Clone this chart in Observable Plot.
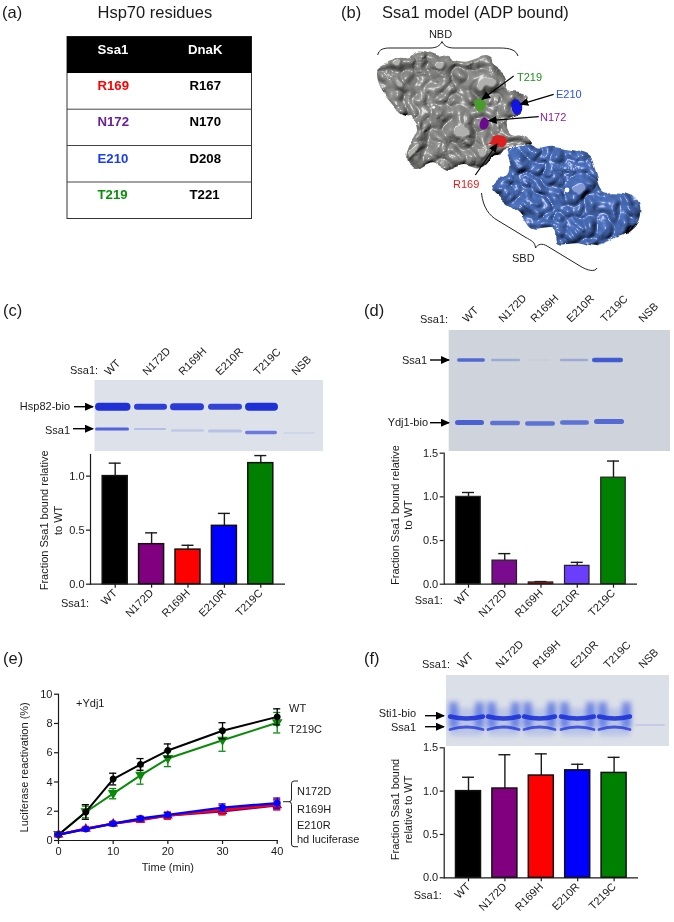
<!DOCTYPE html>
<html><head><meta charset="utf-8">
<script src="https://cdn.jsdelivr.net/npm/d3@7"></script>
<script src="https://cdn.jsdelivr.net/npm/@observablehq/plot@0.6"></script>
<style>
html,body{margin:0;padding:0;background:#fff;}
#fig{position:relative;width:674px;height:922px;overflow:hidden;font-family:"Liberation Sans",Arial,sans-serif;filter:blur(0.3px);}
#fig>svg{position:absolute;overflow:visible;background:transparent;}
</style></head><body><div id="fig"></div>
<script>
// ---------- data ----------
const mutants = ["WT","N172D","R169H","E210R","T219C"];
const barColors = ["#000000","#800080","#ff0000","#0000ff","#008000"];
const barColorsD = ["#000000","#7a0a8e","#ff0000","#6a3dff","#008000"];

const cValues = [1.0,0.37,0.32,0.54,1.12];
const cTops   = [1.12,0.475,0.36,0.655,1.19];
const dValues = [1.0,0.27,0.02,0.21,1.22];
const dTops   = [1.05,0.35,0.03,0.25,1.41];
const fValues = [1.0,1.03,1.18,1.24,1.21];
const fTops   = [1.16,1.42,1.43,1.31,1.39];

const times = [0,5,10,15,20,30,40];
const wtMean = [0.4,1.95,4.2,5.2,6.15,7.5,8.45];
const wtErr  = [0.05,0.5,0.4,0.4,0.45,0.55,0.55];
const tMean  = [0.4,1.95,3.2,4.45,5.6,6.85,8.05];
const tErr   = [0.05,0.4,0.35,0.6,0.55,0.75,0.7];
const nMean  = [0.4,0.8,1.15,1.4,1.7,2.0,2.4];
const nErr   = [0.05,0.1,0.1,0.15,0.2,0.25,0.3];
const rMean  = [0.4,0.8,1.15,1.45,1.7,2.1,2.45];
const rErr   = [0.05,0.1,0.1,0.2,0.25,0.3,0.35];
const eMean  = [0.4,0.78,1.15,1.5,1.75,2.25,2.55];
const eErr   = [0.05,0.08,0.1,0.15,0.15,0.25,0.35];

const tableSsa = ["R169","N172","E210","T219"];
const tableSsaColors = ["#ff0000","#6a1f9a","#1a3cf0","#0a8f0a"];
const tableDna = ["R167","N170","D208","T221"];

const font = '"Liberation Sans",Arial,sans-serif';
const fig = document.getElementById("fig");
const ink = "#1a1a1a";

// ---------- decoration layer: table, gels, surface model, labels ----------
const svg = d3.select(fig).append("svg").attr("width",674).attr("height",922).style("left",0).style("top",0).attr("font-family",font);
const defs = svg.append("defs");
defs.append("marker").attr("id","ah").attr("markerWidth",9).attr("markerHeight",8).attr("refX",8).attr("refY",4).attr("orient","auto").attr("markerUnits","userSpaceOnUse")
  .append("path").attr("d","M0,0L9,4L0,8Z").attr("fill","#000");
[["b06",0.7],["b1",1],["b2",2.6]].forEach(([id,s])=>{
  defs.append("filter").attr("id",id).attr("x","-200%").attr("y","-200%").attr("width","500%").attr("height","500%")
    .append("feGaussianBlur").attr("stdDeviation",s);
});
function surf(id,color,seed,freq){
  const f=defs.append("filter").attr("id",id).attr("x","-5%").attr("y","-5%").attr("width","110%").attr("height","110%");
  f.append("feTurbulence").attr("type","fractalNoise").attr("baseFrequency",0.05).attr("numOctaves",2).attr("seed",seed).attr("result","d");
  f.append("feDisplacementMap").attr("in","SourceAlpha").attr("in2","d").attr("scale",8).attr("xChannelSelector","R").attr("yChannelSelector","G").attr("result","shape");
  f.append("feTurbulence").attr("type","turbulence").attr("baseFrequency",freq).attr("numOctaves",2).attr("seed",seed+3).attr("result","n");
  f.append("feGaussianBlur").attr("in","n").attr("stdDeviation",1.1).attr("result","ns");
  f.append("feColorMatrix").attr("in","ns").attr("type","matrix").attr("values","0 0 0 0 0 0 0 0 0 0 0 0 0 0 0 1.6 0 0 0 0").attr("result","nn");
  f.append("feGaussianBlur").attr("in","shape").attr("stdDeviation",2.5).attr("result","a");
  f.append("feComposite").attr("in","nn").attr("in2","a").attr("operator","arithmetic").attr("k1",0).attr("k2",0.75).attr("k3",0.4).attr("k4",0).attr("result","h2");
  const l=f.append("feDiffuseLighting").attr("in","h2").attr("surfaceScale",11).attr("diffuseConstant",1.0).attr("lighting-color",color).attr("result","lit");
  l.append("feDistantLight").attr("azimuth",235).attr("elevation",66);
  const sp=f.append("feSpecularLighting").attr("in","h2").attr("surfaceScale",11).attr("specularConstant",0.5).attr("specularExponent",34).attr("lighting-color","#fff").attr("result","spec");
  sp.append("feDistantLight").attr("azimuth",235).attr("elevation",60);
  f.append("feComposite").attr("in","lit").attr("in2","spec").attr("operator","arithmetic").attr("k2",1).attr("k3",1).attr("result","all");
  f.append("feComposite").attr("in","all").attr("in2","shape").attr("operator","in");
}
surf("sg","#979795",4,0.042);
surf("sb","#4f76c4",9,0.046);

function label(t,x,y,o={}){
  const e=svg.append("text").attr("x",x).attr("y",y).attr("font-size",o.size||11).attr("fill",o.fill||ink).attr("text-anchor",o.anchor||"start").text(t);
  if(o.weight) e.attr("font-weight",o.weight);
  if(o.rot) e.attr("transform",`rotate(${o.rot} ${x} ${y})`);
  return e;
}
// panel letters and headings
[["(a)",2,18],["(b)",341,18],["(c)",3,316],["(d)",364,316],["(e)",3,664],["(f)",364,664]].forEach(([t,x,y])=>label(t,x,y,{size:16.5}));
label("Hsp70 residues",97.5,18,{size:16.5});
label("Ssa1 model (ADP bound)",382,18,{size:16.5});

// (a) table
svg.append("rect").attr("x",67).attr("y",36.5).attr("width",184.5).attr("height",182).attr("fill","#fff").attr("stroke","#333");
svg.append("rect").attr("x",67).attr("y",36.5).attr("width",184.5).attr("height",36.5).attr("fill","#000");
[109.2,145.5,182].forEach(y=>svg.append("line").attr("x1",67).attr("x2",251.5).attr("y1",y).attr("y2",y).attr("stroke","#444"));
label("Ssa1",97.5,53.5,{size:13.2,weight:"bold",fill:"#fff"});
label("DnaK",188,53.5,{size:13.2,weight:"bold",fill:"#fff"});
tableSsa.forEach((t,i)=>{
  const y=89.8+i*36.4;
  label(t,97.5,y,{size:13.2,weight:"bold",fill:tableSsaColors[i]});
  label(tableDna[i],189.5,y,{size:13.2,weight:"bold",fill:"#000"});
});

// (b) surface model
const Z=(p)=>p.map(([x,y])=>[337+x/3,y/3]);
const closed=d3.line().curve(d3.curveCatmullRomClosed.alpha(0.5));
const nbd=[[122,205],[140,190],[165,180],[190,170],[215,175],[240,155],[270,160],[300,170],[335,165],[350,178],[385,185],[420,175],[440,165],[460,175],[465,195],[500,225],[520,270],[550,275],[570,290],[555,310],[545,345],[510,365],[520,400],[560,405],[585,430],[560,440],[510,445],[495,460],[470,465],[430,505],[380,495],[330,510],[290,490],[240,510],[210,490],[215,440],[240,390],[230,360],[190,340],[175,320],[150,290],[125,250]];
const sbd=[[510,450],[540,440],[580,430],[600,445],[650,440],[700,450],[760,470],[775,510],[800,570],[860,580],[905,605],[905,660],[870,700],[820,720],[780,740],[720,730],[660,730],[650,690],[590,690],[550,640],[490,590],[465,560],[480,535],[510,530],[520,490]];
svg.append("path").attr("d",closed(Z(nbd))).attr("fill","#000").attr("filter","url(#sg)");
svg.append("path").attr("d",closed(Z(sbd))).attr("fill","#000").attr("filter","url(#sb)");
svg.append("circle").attr("cx",337+220/3).attr("cy",351/3).attr("r",2).attr("fill","#fff");
svg.append("circle").attr("cx",337+290/3).attr("cy",322/3).attr("r",1.4).attr("fill","#fff");
svg.append("circle").attr("cx",337+690/3).attr("cy",570/3).attr("r",2.4).attr("fill","#fff");
[[[[412,303],[432,295],[447,310],[440,330],[425,335],[415,322]],"#4a9a2c"],
 [[[525,305],[540,298],[555,318],[553,335],[538,345],[525,330]],"#1414e0"],
 [[[430,365],[442,352],[455,365],[450,383],[435,388],[428,378]],"#6a0a8e"],
 [[[445,435],[462,425],[470,408],[498,408],[510,422],[500,440],[478,438],[460,432]],"#dc2020"]].forEach(([p,col])=>{
  svg.append("path").attr("d",closed(Z(p))).attr("fill",col);
});
[[[530,228],[435,298]],[[650,283],[550,313]],[[605,350],[455,362]],[[415,525],[480,432]]].forEach(([a,b])=>{
  svg.append("line").attr("x1",337+a[0]/3).attr("y1",a[1]/3).attr("x2",337+b[0]/3).attr("y2",b[1]/3).attr("stroke","#000").attr("stroke-width",1.2).attr("marker-end","url(#ah)");
});
const brace=(d)=>svg.append("path").attr("d",d).attr("fill","none").attr("stroke","#222").attr("stroke-width",1);
brace("M377.7,55 C379,49 384,48 390,48 L430,48 C436,48 440,46 442,41.5 C444,46 448,48 454,48 L500,48 C510,48 516,50 518,56");
brace("M481.5,193 C483,208 490,216 497,220 L525,237 C532,241 535,242 535.5,248 C538,244 542,243 547,246 L580,266 C588,271 595,272 597,268");
label("NBD",440.5,38,{anchor:"middle"});
label("T219",517,81,{fill:"#1f8f1f"});
label("E210",556,98,{fill:"#2a50ee"});
label("N172",540,121,{fill:"#8a1fa0"});
label("R169",453,188,{fill:"#e81a1a"});
label("SBD",512,262);

// gels
function gel(x,y,w,h,bg){
  svg.append("rect").attr("x",x).attr("y",y).attr("width",w).attr("height",h).attr("fill",bg);
}
function band(x0,x1,y,h,op,color="#1a2fd6",blur="b06"){
  svg.append("rect").attr("x",x0).attr("y",y-h/2).attr("width",x1-x0).attr("height",h).attr("rx",h/2).attr("fill",color).attr("opacity",op).attr("filter",`url(#${blur})`);
}
function arrow(x1,x2,y){
  svg.append("line").attr("x1",x1).attr("x2",x2).attr("y1",y).attr("y2",y).attr("stroke","#000").attr("stroke-width",1.4).attr("marker-end","url(#ah)");
}
function laneLabels(xs,y,names){ names.forEach((t,i)=>label(t,xs[i],y,{rot:-45})); }
const laneNames=[...mutants,"NSB"];

// (c) gel
gel(94.5,380,228.5,71,"#dde1e9");
[[95,130.5,8,0.98],[134,167,6,0.9],[170,204,7,0.92],[208,242,6,0.88],[245,278,8,0.98]].forEach(([a,b,h,o])=>band(a,b,406.7,h,o));
[[95,129,3,0.7,429],[134,166,2,0.2,429],[171,204,2.5,0.14,430.5],[208,242,3,0.18,431],[245,277,3.5,0.58,432.5],[283,315,2,0.06,433]].forEach(([a,b,h,o,y])=>band(a,b,y,h,o));
laneLabels([109,147,183,220,258,296],376,laneNames);
label("Ssa1:",70,374);
label("Hsp82-bio",70,410,{anchor:"end"}); arrow(74,93,406.7);
label("Ssa1",70,434,{anchor:"end"}); arrow(73,93,428.7);

// (d) gel
gel(448.7,330,221.3,121,"#cfd4dc");
[[457,485,3.6,0.75],[491,520,2.6,0.3],[527,550,2,0.03],[560,588,2.6,0.3],[592,623,4.4,0.85]].forEach(([a,b,h,o])=>band(a,b,360,h,o,"#2a44d0"));
[[455,484,5,0.8,422.5],[490,520,4.6,0.68,423],[525,555,4.6,0.68,423.5],[560,589,4.6,0.68,422.5],[594,624,5,0.74,421.5]].forEach(([a,b,h,o,y])=>band(a,b,y,h,o,"#2a44d0"));
laneLabels([467,503,535,571,605,643],323,laneNames);
label("Ssa1:",420,323);
label("Ssa1",427,364,{anchor:"end"}); arrow(430,449,360);
label("Ydj1-bio",428,426,{anchor:"end"}); arrow(430,449,422.7);

// (f) gel
gel(446,675,223,71,"#dbdfe8");
[[450,483],[488,519],[524,555],[561,594],[599,630]].forEach(([a,b])=>{
  const m=(a+b)/2;
  svg.append("rect").attr("x",a).attr("y",708).attr("width",b-a).attr("height",28).attr("fill","#4a6ae0").attr("opacity",0.22).attr("filter","url(#b2)");
  svg.append("rect").attr("x",a-1).attr("y",702).attr("width",9).attr("height",26).attr("fill","#2f50e0").attr("opacity",0.55).attr("filter","url(#b2)");
  svg.append("rect").attr("x",b-8).attr("y",702).attr("width",9).attr("height",26).attr("fill","#2f50e0").attr("opacity",0.55).attr("filter","url(#b2)");
  svg.append("path").attr("d",`M${a},${716.5} Q${m},${720.5} ${b},${716.5}`).attr("fill","none").attr("stroke","#1a30d8").attr("stroke-width",4.4).attr("stroke-linecap","round").attr("opacity",0.9).attr("filter","url(#b06)");
  svg.append("path").attr("d",`M${a},${729.5} Q${m},${724.5} ${b},${729.5}`).attr("fill","none").attr("stroke","#1a30d8").attr("stroke-width",2.8).attr("stroke-linecap","round").attr("opacity",0.75).attr("filter","url(#b06)");
});
band(635,665,725,2,0.1);
laneLabels([462,500,537,575,608,643],669,laneNames);
label("Ssa1:",422,668);
label("Sti1-bio",416,717,{anchor:"end"}); arrow(425,444,715.7);
label("Ssa1",416,731,{anchor:"end"}); arrow(425,444,726.7);

// under-bar "Ssa1:" labels
label("Ssa1:",61,607); label("Ssa1:",414.7,603.5); label("Ssa1:",413.7,899);

// (e) annotations
label("+Ydj1",76,707);
label("WT",289,712); label("T219C",289,733);
label("N172D",297,795); label("R169H",297,812.5); label("E210R",297,829); label("hd luciferase",297,842.5);
brace("M298,781 L294,781 Q291.5,781 291.5,784 L291.5,799 Q291.5,801.7 289,801.7 L283,801.7 M289,801.7 Q291.5,801.7 291.5,804.5 L291.5,844 Q291.5,846.7 294,846.7 L298,846.7");

// ---------- charts through Plot ----------
function place(plot,left,top){ plot.style.left=left+"px"; plot.style.top=top+"px"; plot.style.overflow="visible"; plot.style.maxWidth="none"; plot.style.background="transparent"; fig.appendChild(plot); }

function barPanel({left,top,axisX,rightX,yTop,yZero,yMax,c0,step,barW,values,tops,colors,yLabel,labelDx,labelDy,stroke,sw}){
  const rows=mutants.map((m,i)=>({m,v:values[i],t:tops[i]}));
  const p=1-barW/step;
  const plot=Plot.plot({
    width:rightX-left+8, height:yZero-top+50,
    marginLeft:axisX-left, marginRight:8, marginTop:yTop-top, marginBottom:50,
    style:{fontFamily:font,fontSize:"11px",color:ink,background:"transparent"},
    x:{domain:mutants,range:[c0-step/2-left,c0+4.5*step-left],paddingInner:p,paddingOuter:p/2,round:false},
    y:{domain:[0,yMax],range:[yZero-top,yTop-top]},
    color:{domain:mutants,range:colors},
    marks:[
      Plot.ruleX(rows,{x:"m",y1:"v",y2:"t",stroke:ink,strokeWidth:1.4}),
      Plot.tickY(rows,{x:"m",y:"t",stroke:ink,strokeWidth:1.4,insetLeft:(barW-12)/2,insetRight:(barW-12)/2}),
      Plot.barY(rows,{x:"m",y:"v",fill:"m",stroke:stroke,strokeWidth:sw}),
      Plot.frame({anchor:"left",stroke:ink,strokeWidth:1.2}),
      Plot.ruleY([0],{stroke:ink,strokeWidth:1.2}),
      Plot.axisY({ticks:[0,0.5,1,1.5].filter(d=>d<=yMax),tickFormat:".1f",tickSize:4,tickPadding:2,stroke:ink,strokeWidth:1.2,fill:ink,label:null}),
      Plot.text([yLabel],{frameAnchor:"left",textAnchor:"middle",rotate:-90,dx:labelDx,dy:labelDy,lineHeight:1.2,fill:ink,fontSize:11}),
      Plot.axisX({tickRotate:-45,tickSize:4,tickPadding:3,stroke:ink,strokeWidth:1.2,fill:ink,label:null})
    ]
  });
  place(plot,left,top);
}

barPanel({left:0,top:440,axisX:90,rightX:285,yTop:454,yZero:583.7,yMax:1.2,c0:114.7,step:36.4,barW:25,values:cValues,tops:cTops,colors:barColors,
  yLabel:"Fraction Ssa1 bound relative\nto WT",labelDx:-39.7,labelDy:1,stroke:"#111",sw:1.5});
barPanel({left:337,top:440,axisX:443.7,rightX:637,yTop:452.7,yZero:583.7,yMax:1.5,c0:468,step:36.25,barW:24.5,values:dValues,tops:dTops,colors:barColorsD,
  yLabel:"Fraction Ssa1 bound relative\nto WT",labelDx:-42.7,labelDy:-3.7,stroke:"#222",sw:1.2});
barPanel({left:337,top:735,axisX:443.7,rightX:638,yTop:747.3,yZero:877.3,yMax:1.5,c0:468,step:36.4,barW:25,values:fValues,tops:fTops,colors:barColors,
  yLabel:"Fraction Ssa1 bound\nrelative to WT",labelDx:-42.7,labelDy:-3.3,stroke:"#111",sw:1.5});

// (e) time course
const triDown={draw(c,s){const h=Math.sqrt(s)*0.85;c.moveTo(-h,-h*0.7);c.lineTo(h,-h*0.7);c.lineTo(0,h);c.closePath();}};
const series=[["T219C",tMean,tErr,"#0a8a0a",triDown,2],["WT",wtMean,wtErr,"#000000","circle",2],["N172D",nMean,nErr,"#800080","triangle",2.4],["R169H",rMean,rErr,"#ff0000","square",2.4],["E210R",eMean,eErr,"#0000ff","circle",2.4]];
const rowsE=series.flatMap(([name,mean,err])=>times.map((t,i)=>({name,t,mean:mean[i],lo:mean[i]-err[i],hi:mean[i]+err[i]})));
const seriesNames=series.map(s=>s[0]);
const capMin=0.65;
const plotE=Plot.plot({
  width:300,height:201,marginLeft:58,marginRight:23.3,marginTop:13.7,marginBottom:41,
  style:{fontFamily:font,fontSize:"11px",color:ink,background:"transparent"},
  x:{domain:[0,40],range:[58,276.7]},
  y:{domain:[0,10],range:[160,13.7]},
  color:{domain:seriesNames,range:series.map(s=>s[3])},
  symbol:{domain:seriesNames,range:series.map(s=>s[4])},
  marks:series.flatMap(([name,,,,,lw])=>{
    const r=rowsE.filter(d=>d.name===name);
    return [
      Plot.ruleX(r,{x:"t",y1:"lo",y2:"hi",stroke:"name",strokeWidth:1.3}),
      Plot.ruleY(r,{y:"hi",x1:d=>d.t-capMin,x2:d=>d.t+capMin,stroke:"name",strokeWidth:1.3}),
      Plot.ruleY(r,{y:"lo",x1:d=>d.t-capMin,x2:d=>d.t+capMin,stroke:"name",strokeWidth:1.3}),
      Plot.line(r,{x:"t",y:"mean",stroke:"name",strokeWidth:lw}),
      Plot.dot(r,{x:"t",y:"mean",fill:"name",stroke:"name",symbol:"name",r:2.7})
    ];
  }).concat([
    Plot.frame({anchor:"left",stroke:ink,strokeWidth:1.2}),
    Plot.frame({anchor:"bottom",stroke:ink,strokeWidth:1.2}),
    Plot.axisY({ticks:[0,2,4,6,8,10],tickSize:4,tickPadding:2,stroke:ink,strokeWidth:1.2,fill:ink,label:"Luciferase reactivation (%)",labelAnchor:"center",labelArrow:"none",labelOffset:38}),
    Plot.axisX({ticks:[0,10,20,30,40],tickSize:4,tickPadding:3,stroke:ink,strokeWidth:1.2,fill:ink,label:"Time (min)",labelAnchor:"center",labelArrow:"none",labelOffset:30})
  ])
});
place(plotE,0,680);
</script></body></html>
